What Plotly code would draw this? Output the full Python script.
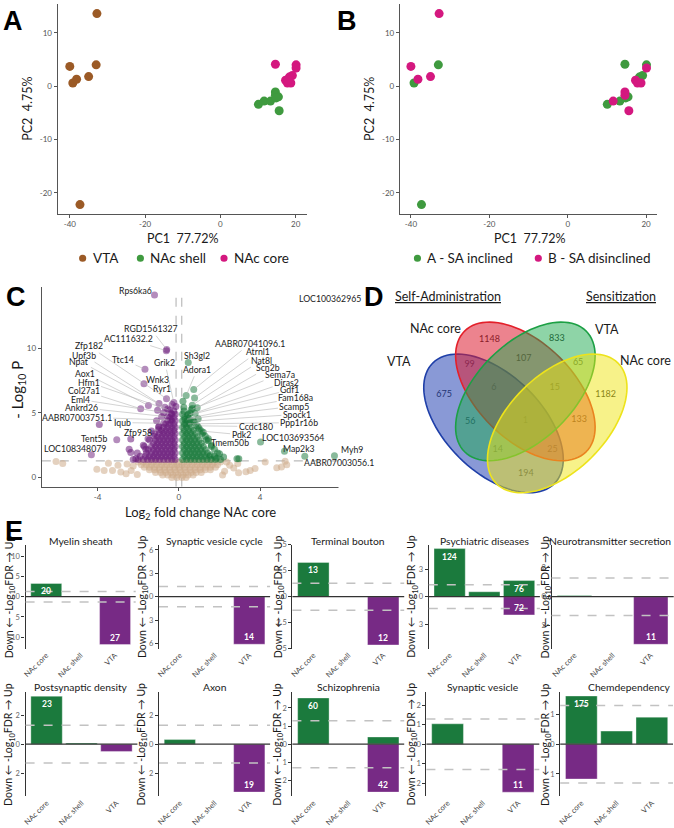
import math
import plotly.graph_objects as go

W, H = 674, 828
FONT = "Lato, 'Open Sans', sans-serif"

# ---------------- A / B : PCA ----------------
pc1 = [-32.8, -40.0, -33.0, -39.2, -38.2, -35.0, -37.3,
       10.1, 11.6, 13.3, 14.6, 14.6, 15.4, 15.6, 14.8,
       14.6, 20.1, 20.1, 19.1, 18.3, 17.3, 17.8, 18.7, 18.0]
pc2 = [13.6, 3.7, 4.0, 0.6, 1.3, 1.8, -22.2,
       -3.4, -2.8, -2.8, -1.1, -1.7, -2.0, -4.6, -2.2,
       4.1, 4.0, 3.4, 2.0, 1.7, 1.1, 0.6, 0.6, 1.2]
pca_region = ["VTA"] * 7 + ["NAc shell"] * 8 + ["NAc core"] * 9
pca_group = ["B", "B", "A", "A", "B", "B", "A",
             "A", "B", "A", "B", "B", "A", "B", "A",
             "A", "A", "B", "A", "A", "B", "B", "B", "A"]
region_order = ["VTA", "NAc shell", "NAc core"]
group_order = ["A", "B"]
group_names = {"A": "A - SA inclined", "B": "B - SA disinclined"}

# ---------------- C : volcano ----------------
down_rows = [
    (1.40, [-2.25, -2.0, -1.75, -1.55, -1.35, -1.15, -0.95, -0.75, -0.55, -0.35, -0.18]),
    (1.65, [-1.9, -1.65, -1.45, -1.25, -1.05, -0.85, -0.65, -0.45, -0.25]),
    (1.90, [-2.05, -1.6, -1.35, -1.15, -0.95, -0.75, -0.55, -0.35, -0.18]),
    (2.15, [-1.5, -1.25, -1.05, -0.85, -0.65, -0.45, -0.25]),
    (2.40, [-1.7, -1.35, -1.15, -0.95, -0.75, -0.55, -0.35, -0.18]),
    (2.65, [-1.25, -1.05, -0.85, -0.65, -0.45, -0.25]),
    (2.90, [-1.45, -1.15, -0.95, -0.75, -0.55, -0.35, -0.18]),
    (3.15, [-1.05, -0.85, -0.65, -0.45, -0.25]),
    (3.40, [-1.2, -0.95, -0.75, -0.55, -0.35, -0.18]),
    (3.65, [-0.85, -0.65, -0.45, -0.25]),
    (3.90, [-1.0, -0.75, -0.55, -0.35, -0.18]),
    (4.15, [-0.65, -0.45, -0.25]),
    (4.40, [-0.55, -0.35, -0.18]),
    (4.65, [-0.45, -0.25]),
    (4.90, [-0.35, -0.18]),
    (5.15, [-0.25]),
]
down_extra = [(-2.45, 2.2), (-2.37, 1.95), (-2.12, 1.45), (-2.37, 2.98), (-1.63, 2.2), (-1.52, 3.0),
              (-1.22, 3.2), (-0.98, 3.97), (-1.1, 4.4), (-0.85, 4.7), (-1.05, 5.2), (-0.75, 5.0),
              (-3.92, 4.1), (-1.35, 3.6), (-1.75, 2.5), (-0.55, 5.3), (-0.15, 5.5)]
up_rows = [
    (1.40, [0.18, 0.38, 0.58, 0.78, 0.98, 1.18, 1.38, 1.58, 1.8, 2.05]),
    (1.65, [0.28, 0.48, 0.68, 0.88, 1.08, 1.28, 1.5, 1.75]),
    (1.90, [0.18, 0.38, 0.58, 0.78, 0.98, 1.18, 1.4, 1.9]),
    (2.15, [0.28, 0.48, 0.68, 0.88, 1.08, 1.3]),
    (2.40, [0.18, 0.38, 0.58, 0.78, 0.98, 1.2, 1.6]),
    (2.65, [0.28, 0.48, 0.68, 0.88, 1.1]),
    (2.90, [0.18, 0.38, 0.58, 0.78, 1.0, 1.35]),
    (3.15, [0.28, 0.48, 0.68, 0.9]),
    (3.40, [0.18, 0.38, 0.58, 0.8, 1.15]),
    (3.65, [0.28, 0.48, 0.7]),
    (3.90, [0.18, 0.38, 0.6, 0.95]),
    (4.15, [0.28, 0.5]),
    (4.40, [0.18, 0.4, 0.7]),
    (4.65, [0.28]),
    (4.90, [0.18, 0.45]),
    (5.15, [0.25]),
]
up_extra = [(2.86, 1.45), (2.95, 1.45), (2.2, 1.6), (2.0, 1.85), (1.75, 2.2), (1.6, 2.5), (1.45, 2.85),
            (1.3, 3.2), (1.2, 3.5), (1.0, 3.8), (0.75, 4.3), (0.95, 4.55), (0.55, 5.0), (0.24, 5.44),
            (0.66, 5.34), (0.2, 5.9), (1.55, 1.75), (1.85, 1.5)]
ns_rows = [
    (1.20, [-2.0, -1.75, -1.5, -1.25, -1.0, -0.75, -0.5, -0.25, 0.0, 0.25, 0.5, 0.75, 1.0, 1.25, 1.5, 1.75, 2.05]),
    (1.00, [-1.85, -1.6, -1.35, -1.1, -0.85, -0.6, -0.35, -0.1, 0.15, 0.4, 0.65, 0.9, 1.15, 1.4, 1.65, 1.9]),
    (0.80, [-1.7, -1.45, -1.2, -0.95, -0.7, -0.45, -0.2, 0.05, 0.3, 0.55, 0.8, 1.05, 1.3, 1.55, 1.8]),
    (0.60, [-1.45, -1.2, -0.95, -0.7, -0.45, -0.2, 0.05, 0.3, 0.55, 0.8, 1.05, 1.3, 1.55]),
    (0.40, [-1.15, -0.9, -0.65, -0.4, -0.15, 0.1, 0.35, 0.6, 0.85, 1.1]),
    (0.20, [-0.8, -0.55, -0.3, -0.05, 0.2, 0.45, 0.7]),
    (0.02, [-0.35, -0.1, 0.15, 0.35]),
]
ns_extra = [(-6.05, 1.25), (-5.72, 1.1), (-3.47, 1.12), (-4.04, 0.64), (-3.68, 0.55), (-3.27, 0.55),
            (-2.86, 0.43), (-2.6, 0.3), (-2.35, 0.55), (-2.25, 0.9), (-2.55, 1.05), (-2.05, 0.25),
            (-3.0, 0.95), (4.25, 1.2), (5.23, 1.26), (5.31, 1.0), (4.82, 0.76), (5.05, 0.82),
            (3.51, 0.56), (3.3, 0.45), (2.94, 0.37), (2.7, 0.75), (2.5, 0.95), (2.25, 0.5),
            (2.9, 1.1), (2.15, 0.2), (2.35, 1.2), (3.75, 0.7)]

down_genes = ["Rps6ka6", "RGD1561327", "AC111632.2", "Zfp182", "Upf3b", "Npat", "Ttc14", "Grik2",
              "Aox1", "Hfm1", "Wnk3", "Col27a1", "Ryr1", "Eml4", "Ankrd26", "AABR07003751.1",
              "Iqub", "Zfp958", "Tent5b", "LOC108348079"]
down_gene_fc = [-1.2, -0.6, -0.62, -0.61, -0.98, -0.69, -1.67, -0.25, -1.5, -0.45, -1.72, -1.88,
                -0.33, -0.38, -0.55, -0.4, -0.75, -1.0, -3.06, -4.31]
down_gene_p = [14.1, 9.9, 9.8, 6.1, 5.72, 5.44, 8.37, 5.8, 5.57, 5.2, 7.25, 5.32,
               5.65, 4.95, 4.7, 4.45, 4.2, 3.7, 2.93, 1.76]
up_genes = ["LOC100362965", "AABR07041096.1", "Sh3gl2", "Atrnl1", "Adora1", "Nat8l", "Scn2b",
            "Sema7a", "Diras2", "Gdf1", "Fam168a", "Scamp5", "Spock1", "Ppp1r16b", "Ccdc180",
            "Pdk2", "Tmem50b", "LOC103693564", "Map2k3", "Myh9", "AABR07003056.1"]
up_gene_fc = [8.14, 0.73, 0.46, 0.77, 0.36, 0.66, 0.9, 0.6, 0.42, 0.8, 0.5, 0.3, 0.6, 0.35, 0.9,
              1.1, 1.45, 4.02, 5.2, 7.66, 6.2]
up_gene_p = [13.2, 6.8, 8.9, 6.16, 6.34, 5.6, 5.4, 5.25, 4.8, 4.95, 4.6, 4.5, 4.35, 4.15, 4.0,
             3.6, 3.0, 2.75, 2.04, 1.7, 1.66]

# ---------------- D : Venn ----------------
venn_regions = ["A", "B", "C", "D", "AB", "BC", "CD", "AD", "AC", "BD", "ABC", "BCD", "ACD", "ABD", "ABCD"]
venn_counts = [675, 1148, 833, 1182, 99, 107, 65, 194, 56, 133, 6, 15, 14, 25, 1]

# ---------------- E : enrichment bars ----------------
e_titles = ["Myelin sheath", "Synaptic vesicle cycle", "Terminal bouton", "Psychiatric diseases",
            "Neurotransmitter secretion", "Postsynaptic density", "Axon", "Schizophrenia",
            "Synaptic vesicle", "Chemdependency"]
e_regions = ["NAc core", "NAc shell", "VTA"]
e_up = [[3.25, None, None], [None, None, None], [3.3, None, None], [5.28, 0.54, 1.77], [0.08, None, None],
        [3.31, 0.08, None], [0.32, None, None], [2.55, None, 0.4], [1.05, None, None], [1.62, 0.44, 0.91]]
e_down = [[None, None, 11.8], [None, None, 6.1], [None, None, 4.65], [None, None, 2.0], [None, None, 3.3],
          [None, None, 0.5], [None, None, 3.3], [None, None, 2.64], [None, None, 2.47], [1.17, None, None]]
e_up_n = [["20", "", ""], ["", "", ""], ["13", "", ""], ["124", "", "76"], ["", "", ""],
          ["23", "", ""], ["", "", ""], ["60", "", ""], ["", "", ""], ["175", "", ""]]
e_down_n = [["", "", "27"], ["", "", "14"], ["", "", "12"], ["", "", "72"], ["", "", "11"],
            ["", "", ""], ["", "", "19"], ["", "", "42"], ["", "", "11"], ["", "", ""]]
e_ymax = [12.8, 6.66, 5.0, 5.7, 3.6, 3.59, 3.59, 2.87, 2.68, 1.75]
e_ticks = [[10, 5, 0, -5, -10], [6, 3, 0, -3, -6], [5, 2.5, 0, -2.5, -5], [3, 0, -3], [2, 0, -2],
           [2, 0, -2], [2, 0, -2], [2, 1, 0, -1, -2], [2, 1, 0, -1, -2], [1, 0, -1]]
fdr_cut = 1.3

REGION_COL = {"VTA": "#9B5A26", "NAc shell": "#3F9A3F", "NAc core": "#D4187F"}
GROUP_COL = {"A": "#3F9A3F", "B": "#D4187F"}
UP_COL, DOWN_COL = "#1B7A3D", "#772A85"


def xdom(x0, x1):
    return [x0 / W, x1 / W]


def ydom(top, bottom):
    return [1 - bottom / H, 1 - top / H]


ann = []
shapes = []


def text_at(text, x, y, size, color="#1a1a1a", family=FONT, xanchor="center", **kw):
    ann.append(dict(text=text, x=x / W, y=1 - y / H, xref="paper", yref="paper", showarrow=False,
                    xanchor=xanchor, yanchor="middle",
                    font=dict(size=size, color=color, family=family), **kw))


def legend_item(label, color, mx, y):
    shapes.append(dict(type="circle", xref="paper", yref="paper", x0=(mx - 3.6) / W, x1=(mx + 3.6) / W,
                       y0=1 - (y + 3.6) / H, y1=1 - (y - 3.6) / H, fillcolor=color, line=dict(width=0)))
    text_at(label, mx + 8, y, 13.5, xanchor="left")


def fmt(v):
    return f"{abs(v):g}"


fig = go.Figure()

# ---- PCA panels
for reg in region_order:
    idx = [i for i, r in enumerate(pca_region) if r == reg]
    fig.add_trace(go.Scatter(x=[pc1[i] for i in idx], y=[pc2[i] for i in idx], mode="markers", name=reg,
                             marker=dict(color=REGION_COL[reg], size=9), xaxis="x", yaxis="y",
                             showlegend=False))
for grp in group_order:
    idx = [i for i, g in enumerate(pca_group) if g == grp]
    fig.add_trace(go.Scatter(x=[pc1[i] for i in idx], y=[pc2[i] for i in idx], mode="markers",
                             name=group_names[grp], marker=dict(color=GROUP_COL[grp], size=9),
                             xaxis="x2", yaxis="y2", showlegend=False))
for reg, mx in zip(region_order, [80, 138, 222]):
    legend_item(reg, REGION_COL[reg], mx, 257)
for grp, mx in zip(group_order, [416.3, 537.7]):
    legend_item(group_names[grp], GROUP_COL[grp], mx, 257)

pca_axis = dict(showline=True, linecolor="#555", linewidth=1.3, ticks="outside", ticklen=3, tickcolor="#555",
                tickfont=dict(size=8, color="#555"), showgrid=False, zeroline=False)
layout_axes = dict(
    xaxis=dict(domain=xdom(55, 305), range=[-43.2, 22.9], tickvals=[-40, -20, 0, 20],
               ticktext=["-40", "-20", "0", "20"], anchor="y", **pca_axis),
    yaxis=dict(domain=ydom(0, 212), range=[-23.9, 15.4], tickvals=[-20, -10, 0, 10],
               ticktext=["-20", "-10", "0", "10"], anchor="x", **pca_axis),
    xaxis2=dict(domain=xdom(398.7, 657), range=[-42.8, 22.8], tickvals=[-40, -20, 0, 20],
                ticktext=["-40", "-20", "0", "20"], anchor="y2", **pca_axis),
    yaxis2=dict(domain=ydom(0, 212), range=[-23.9, 15.4], tickvals=[-20, -10, 0, 10],
                ticktext=["-20", "-10", "0", "10"], anchor="x2", **pca_axis),
)
text_at("PC1  77.72%", 180, 237, 12.5)
text_at("PC2  4.75%", 25, 106, 12.5, textangle=-90)
text_at("PC1  77.72%", 528.7, 237, 12.5)
text_at("PC2  4.75%", 368.7, 106, 12.5, textangle=-90)


# ---- Volcano
def expand(rows, extra):
    xs, ys = [], []
    for yv, xrow in rows:
        xs += xrow
        ys += [yv] * len(xrow)
    xs += [p[0] for p in extra]
    ys += [p[1] for p in extra]
    return xs, ys


for rows, extra, col in [(ns_rows, ns_extra, "rgb(205,172,138)"),
                         (down_rows, down_extra, "rgb(106,26,122)"),
                         (up_rows, up_extra, "rgb(20,118,55)")]:
    xs, ys = expand(rows, extra)
    fig.add_trace(go.Scatter(x=xs, y=ys, mode="markers", marker=dict(color=col, size=7, opacity=0.55),
                             xaxis="x3", yaxis="y3", showlegend=False, hoverinfo="skip"))
fig.add_trace(go.Scatter(x=down_gene_fc, y=down_gene_p, mode="markers", text=down_genes, cliponaxis=False,
                         marker=dict(color="rgb(106,26,122)", size=7, opacity=0.5),
                         xaxis="x3", yaxis="y3", showlegend=False))
fig.add_trace(go.Scatter(x=up_gene_fc, y=up_gene_p, mode="markers", text=up_genes, cliponaxis=False,
                         marker=dict(color="rgb(20,118,55)", size=7, opacity=0.5),
                         xaxis="x3", yaxis="y3", showlegend=False))

# 13.1 px per unit of -log10 P; the top is stretched a bit so the highest labels stay inside the range
layout_axes["xaxis3"] = dict(domain=xdom(39, 357), range=[-6.75, 8.84], tickvals=[-4, 0, 4, 8],
                             ticktext=["-4", "0", "4", "8"], anchor="y3", **pca_axis)
layout_axes["yaxis3"] = dict(domain=ydom(479 - 14.7 * 13.1, 488), range=[-0.7, 14.7], tickvals=[0, 5, 10],
                             ticktext=["0", "5", "10"], anchor="x3", **pca_axis)
for xv in (-0.14, 0.14):
    shapes.append(dict(type="line", xref="x3", yref="y3", x0=xv, x1=xv, y0=-0.7, y1=14.0,
                       line=dict(color="#bbbbbb", width=1.2, dash="dash"), layer="below"))
shapes.append(dict(type="line", xref="x3 domain", yref="y3", x0=0, x1=1, y0=fdr_cut, y1=fdr_cut,
                   line=dict(color="#bbbbbb", width=1.2, dash="dash"), layer="below"))

# label placement (layout only): text centre in data units, and whether a leader line is drawn
down_lab_pos = [(-2.16, 14.43, 0), (-1.39, 11.5, 1), (-2.49, 10.74, 1), (-4.45, 10.18, 1), (-4.69, 9.47, 1),
                (-4.9, 9.0, 1), (-2.75, 9.13, 1), (-0.69, 8.88, 1), (-4.63, 8.07, 1), (-4.45, 7.38, 1),
                (-1.05, 7.61, 1), (-4.69, 6.72, 1), (-0.82, 6.87, 1), (-4.84, 6.03, 1), (-4.79, 5.4, 1),
                (-5.03, 4.68, 1), (-2.78, 4.25, 1), (-2.0, 3.49, 1), (-4.17, 3.03, 0), (-5.1, 2.27, 0)]
up_lab_pos = [(7.42, 13.8, 0), (3.51, 10.36, 1), (0.9, 9.47, 0), (3.89, 9.72, 1), (0.9, 8.37, 1),
              (4.08, 9.08, 1), (4.41, 8.52, 1), (4.98, 7.99, 1), (5.31, 7.38, 1), (5.47, 6.79, 1),
              (5.75, 6.16, 1), (5.69, 5.52, 1), (5.81, 4.89, 1), (5.93, 4.25, 1), (3.79, 3.95, 1),
              (3.07, 3.31, 1), (2.5, 2.72, 1), (5.64, 3.1, 0), (5.91, 2.27, 0), (8.5, 2.16, 0),
              (7.86, 1.15, 0)]
for genes, gx, gy, pos in [(down_genes, down_gene_fc, down_gene_p, down_lab_pos),
                           (up_genes, up_gene_fc, up_gene_p, up_lab_pos)]:
    for g, px_, py_, (lx, ly, line) in zip(genes, gx, gy, pos):
        if line:
            ann.append(dict(text=g, x=px_, y=py_, xref="x3", yref="y3", ax=lx, ay=ly, axref="x3", ayref="y3",
                            showarrow=True, arrowhead=0, arrowwidth=0.6, arrowcolor="#b5b5b5", standoff=2,
                            font=dict(size=8.7, color="#1a1a1a", family=FONT)))
        else:
            ann.append(dict(text=g, x=lx, y=ly, xref="x3", yref="y3", showarrow=False,
                            xanchor="center", yanchor="middle",
                            font=dict(size=8.7, color="#1a1a1a", family=FONT)))
text_at("- Log<sub>10</sub> P", 15, 390, 15, textangle=-90)
text_at("Log<sub>2</sub> fold change NAc core", 198, 515, 13)


# ---- Venn
def ellipse_path(cx, cy, a, b, ang):
    t = math.radians(ang)
    pts = []
    for k in range(97):
        s = 2 * math.pi * k / 96
        u, v = a * math.cos(s), b * math.sin(s)
        pts.append((cx + u * math.cos(t) - v * math.sin(t), cy + u * math.sin(t) + v * math.cos(t)))
    return "M " + " L ".join(f"{x:.2f},{y:.2f}" for x, y in pts) + " Z"


venn_shapes = [  # centre x, centre y, angle, fill, outline  (pixel space of the panel)
    (492.7, 424.0, 45, "rgba(40,70,180,0.55)", "#1f3fa8"),
    (524.7, 391.7, 45, "rgba(220,30,50,0.55)", "#e3202a"),
    (524.7, 391.7, -45, "rgba(30,170,80,0.5)", "#1da045"),
    (556.7, 424.0, -45, "rgba(240,230,20,0.5)", "#ede31b"),
]
for cx, cy, ang, fill, edge in venn_shapes:
    shapes.append(dict(type="path", xref="x4", yref="y4", path=ellipse_path(cx, cy, 86.3, 48.7, ang),
                       fillcolor=fill, line=dict(color=edge, width=1.6)))
layout_axes["xaxis4"] = dict(domain=xdom(337, 674), range=[337, 674], visible=False, anchor="y4")
layout_axes["yaxis4"] = dict(domain=ydom(280, 510), range=[510, 280], visible=False, anchor="x4")
venn_pos = [(443, 395), (488.7, 339.3), (556.3, 338.3), (605.3, 395), (468.7, 365), (523, 359),
            (577.7, 362.7), (525.3, 475), (469.3, 422.7), (578.7, 420.7), (493, 388.3), (554.3, 388.3),
            (497, 450.7), (552, 450.7), (524.7, 421)]
fig.add_trace(go.Scatter(x=[p[0] for p in venn_pos], y=[p[1] for p in venn_pos], mode="text",
                         text=[str(c) for c in venn_counts], customdata=venn_regions,
                         textfont=dict(size=9, color="#222", family=FONT), xaxis="x4", yaxis="y4",
                         showlegend=False))
text_at("<u>Self-Administration</u>", 447, 295.7, 12.5)
text_at("<u>Sensitization</u>", 620.3, 295.7, 12.5)
text_at("NAc core", 434.3, 327.7, 12.5)
text_at("VTA", 397.7, 361.7, 12.5)
text_at("VTA", 607, 329, 12.5)
text_at("NAc core", 645.5, 360.7, 12.5)

# ---- E panels
e_cols = [[(22.7, 133.3), (156.7, 268.3), (290.7, 403), (427.7, 539.3), (551, 673.7)],
          [(22.7, 135), (156.7, 268.3), (290.7, 403), (425.3, 538.7), (559.7, 673)]]
e_rowspan = [(546.7, 651.7), (695.7, 801)]
e_ytitle_x = [6.7, 140, 276.7, 411, 545.3]
e_title_y = [542.7, 690.7]
for i in range(10):
    r, c = divmod(i, 5)
    k = 5 + i
    xa, ya = f"x{k}", f"y{k}"
    x0, x1 = e_cols[r][c]
    top, bot = e_rowspan[r]
    m = e_ymax[i]
    fig.add_trace(go.Bar(x=e_regions, y=e_up[i], width=0.9, xaxis=xa, yaxis=ya, showlegend=False,
                         marker=dict(color=UP_COL, line=dict(color="rgba(255,255,255,0.45)", width=0.8))))
    fig.add_trace(go.Bar(x=e_regions, y=[-v if v is not None else None for v in e_down[i]], width=0.9,
                         xaxis=xa, yaxis=ya, showlegend=False,
                         marker=dict(color=DOWN_COL, line=dict(color="rgba(255,255,255,0.45)", width=0.8))))
    layout_axes[f"xaxis{k}"] = dict(domain=xdom(x0, x1), range=[-0.6, 2.6], anchor=ya, tickangle=-45,
                                    tickfont=dict(size=7.5, color="#444"), showline=False, ticks="",
                                    showgrid=False, zeroline=False, categoryorder="array",
                                    categoryarray=e_regions)
    layout_axes[f"yaxis{k}"] = dict(domain=ydom(top, bot), range=[-m, m], anchor=xa,
                                    tickvals=e_ticks[i], ticktext=[fmt(v) for v in e_ticks[i]],
                                    tickfont=dict(size=7.5, color="#666"), showline=True, linecolor="#333",
                                    linewidth=1.3, ticks="outside", ticklen=3, tickcolor="#333",
                                    showgrid=False, zeroline=False)
    for yv in (fdr_cut, -fdr_cut):
        shapes.append(dict(type="line", xref=f"{xa} domain", yref=ya, x0=0, x1=1, y0=yv, y1=yv,
                           line=dict(color="#c2c2c2", width=1.5, dash="dash")))
    shapes.append(dict(type="line", xref=f"{xa} domain", yref=ya, x0=0, x1=1, y0=0, y1=0,
                       line=dict(color="#333", width=1.3)))
    for j, reg in enumerate(e_regions):
        if e_up_n[i][j]:
            ann.append(dict(text=f"<b>{e_up_n[i][j]}</b>", x=reg, y=e_up[i][j], xref=xa, yref=ya,
                            xanchor="center", yanchor="top", showarrow=False, yshift=-1,
                            font=dict(size=8.5, color="white", family=FONT)))
        if e_down_n[i][j]:
            ann.append(dict(text=f"<b>{e_down_n[i][j]}</b>", x=reg, y=-e_down[i][j], xref=xa, yref=ya,
                            xanchor="center", yanchor="bottom", showarrow=False,
                            font=dict(size=8.5, color="white", family=FONT)))
    if x1 > 670:
        text_at(e_titles[i], 673, e_title_y[r], 10.3, xanchor="right")
    else:
        text_at(e_titles[i], (x0 + x1) / 2, e_title_y[r], 10.3)
    text_at("Down ← -Log<sub>10</sub>FDR → Up", e_ytitle_x[c], (top + bot) / 2, 10.5, textangle=-90)

# ---- panel letters
for letter, x, y in [("A", 10, 17), ("B", 346, 17), ("C", 13, 296), ("D", 373, 296), ("E", 11, 533)]:
    text_at(f"<b>{letter}</b>", x, y, 27, color="#000", family="'Liberation Sans', Arial, sans-serif")

fig.update_layout(
    width=W, height=H, margin=dict(l=0, r=0, t=0, b=0),
    paper_bgcolor="white", plot_bgcolor="white",
    font=dict(family=FONT, color="#1a1a1a"),
    barmode="overlay", bargap=0.1, showlegend=False,
    annotations=ann, shapes=shapes,
    **layout_axes,
)

fig.write_html("out.html", config={"displayModeBar": False},
               post_script="document.body.style.margin='0';")
